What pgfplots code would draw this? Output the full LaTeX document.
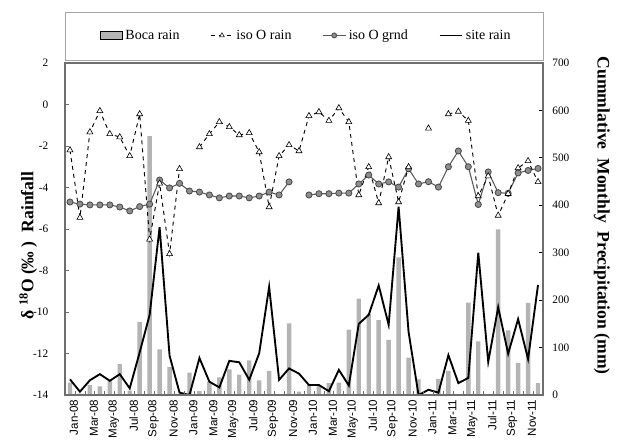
\documentclass[border=0pt]{standalone}
\usepackage{fontspec}
\setmainfont{Liberation Serif}
\newfontfamily\arialf{Liberation Sans}
\usepackage{pgfplots}
\pgfplotsset{compat=1.18}
\usepackage{pgfplotstable}
\definecolor{barc}{HTML}{B4B4B4}
\definecolor{grndline}{HTML}{5A5A5A}
\definecolor{grndfill}{HTML}{8E8E8E}
\definecolor{framec}{HTML}{6E6E6E}

\pgfplotstableread{
i boca site isor isog
0 26 33 -2.2 -4.70
1 3 7 -5.45 -4.80
2 21 31 -1.33 -4.84
3 18 44 -0.31 -4.84
4 30 30 -1.42 -4.84
5 65 44 -1.57 -4.94
6 9 14 -2.48 -5.13
7 154 90 -0.46 -4.92
8 546 169 -6.5 -4.80
9 96 354 -3.8 -3.64
10 59 83 -7.2 -4.02
11 0 5 -3.1 -3.80
12 47 0 nan -4.17
13 8 78 -2.05 -4.22
14 28 28 -1.42 -4.36
15 37 16 -0.84 -4.50
16 54 72 -1.08 -4.41
17 43 69 -1.47 -4.41
18 73 32 -1.37 -4.50
19 31 88 -2.29 -4.41
20 51 228 -4.94 -4.22
21 0 32 -2.48 -4.36
22 151 56 -1.95 -3.73
23 7 45 -2.24 nan
24 21 21 -0.55 -4.36
25 21 21 -0.36 -4.30
26 25 8 -0.78 -4.30
27 26 53 -0.17 -4.27
28 138 20 -0.84 -4.27
29 203 150 -4.36 -3.83
30 171 169 -3.01 -3.40
31 158 231 -4.75 -3.83
32 116 148 -2.53 -3.73
33 290 397 -4.7 -3.98
34 79 133 -3.01 -3.10
35 33 0 nan -3.83
36 0 11 -1.15 -3.72
37 34 5 nan -3.98
38 51 84 -0.46 -3.00
39 2 25 -0.34 -2.24
40 195 36 -0.78 -3.00
41 113 300 -4.41 -4.82
42 0 70 -3.45 -3.25
43 349 185 -5.35 -4.25
44 136 87 -4.3 -4.28
45 68 160 -3.06 -3.30
46 194 76 -2.72 -3.18
47 25 232 -3.73 -3.08
}\datatable

\begin{document}
\begin{tikzpicture}
\useasboundingbox (-48.75pt,-36pt) rectangle (414pt,296.25pt);
% right axis: precipitation
\begin{axis}[
  at={(0,0)}, anchor=south west,
  scale only axis, width=358.5pt, height=249pt,
  xmin=-0.5, xmax=47.5, ymin=0, ymax=700,
  axis x line=none, axis y line*=right,
  axis line style={black, line width=0.8pt},
  ytick={0,100,...,700},
  major tick length=3pt,
  tick style={black, line width=0.6pt},
  /pgf/number format/assume math mode=true,
  yticklabel style={font=\fontsize{8.5}{10}\selectfont, xshift=3.5pt},
  ylabel={\bfseries Cummlative\ \ Monthly\ \ Precipitation (mm)},
  every axis y label/.style={at={(axis description cs:1.123,0.54)}, rotate=-90, anchor=center, font=\fontsize{13.2}{15}\selectfont},
]
\addplot[ybar, bar width=3.3pt, fill=barc, draw=none] table[x=i,y=boca]{\datatable};
\addplot[black, line width=1.4pt, mark=none] table[x=i,y=site]{\datatable};
\end{axis}
% left axis: isotopes
\begin{axis}[
  at={(0,0)}, anchor=south west,
  scale only axis, width=358.5pt, height=249pt,
  xmin=-0.5, xmax=47.5, ymin=-14, ymax=2,
  ytick={-14,-12,...,2},
  ytick pos=left, xtick pos=bottom,
  xtick={0,2,...,46},
  xticklabels={Jan-08,Mar-08,May-08,Jul-08,Sep-08,Nov-08,Jan-09,Mar-09,May-09,Jul-09,Sep-09,Nov-09,Jan-10,Mar-10,May-10,Jul-10,Sep-10,Nov-10,Jan-11,Mar-11,May-11,Jul-11,Sep-11,Nov-11},
  minor xtick={0.5,1.5,...,46.5},
  major x tick style={draw=none},
  minor tick length=3pt,
  major tick length=3pt,
  tick style={framec, line width=0.6pt},
  axis line style={framec, line width=0.9pt},
  unbounded coords=jump,
  clip=false,
  /pgf/number format/assume math mode=true,
  yticklabel style={font=\fontsize{8.5}{10}\selectfont, xshift=-9pt},
  xticklabel style={font=\arialf\fontsize{8.7}{10}\selectfont, rotate=90, anchor=east, yshift=-3pt},
  ylabel={\bfseries δ \textsuperscript{18}O (‰ ) \ Rainfall},
  every axis y label/.style={at={(axis description cs:-0.077,0.45)}, rotate=90, anchor=center, font=\fontsize{13.2}{15}\selectfont},
  legend columns=4,
  legend style={at={(axis description cs:0.505,1.083)}, anchor=center, draw=none, fill=none,
    font=\fontsize{10.5}{12}\selectfont,
    /tikz/every even column/.append style={column sep=21pt}},
  legend cell align=left,
]
\draw[gray!70, line width=0.6pt] (axis description cs:0,1.009) rectangle (axis description cs:1,1.1536);
\addlegendimage{area legend, fill=barc, draw=none}
\addlegendentry{Boca rain}
\addlegendimage{black, dashed, line width=0.6pt, mark=triangle*, mark size=2pt, mark options={solid, fill=white, draw=black, line width=0.4pt}}
\addlegendentry{iso O rain}
\addlegendimage{grndline, line width=0.8pt, mark=*, mark size=1.8pt, mark options={fill=grndfill, draw=grndline}}
\addlegendentry{iso O grnd}
\addlegendimage{black, line width=1.4pt}
\addlegendentry{site rain}
\addplot[forget plot, grndline, line width=0.8pt, mark=*, mark size=2.3pt, mark options={fill=grndfill, draw=grndline!80!black, line width=0.6pt}] table[x=i,y=isog]{\datatable};
\addplot[forget plot, black, dashed, line width=0.7pt, mark=triangle*, mark size=2.6pt, mark options={solid, fill=white, draw=black, line width=0.45pt}] table[x=i,y=isor]{\datatable};
\end{axis}
\end{tikzpicture}
\end{document}
